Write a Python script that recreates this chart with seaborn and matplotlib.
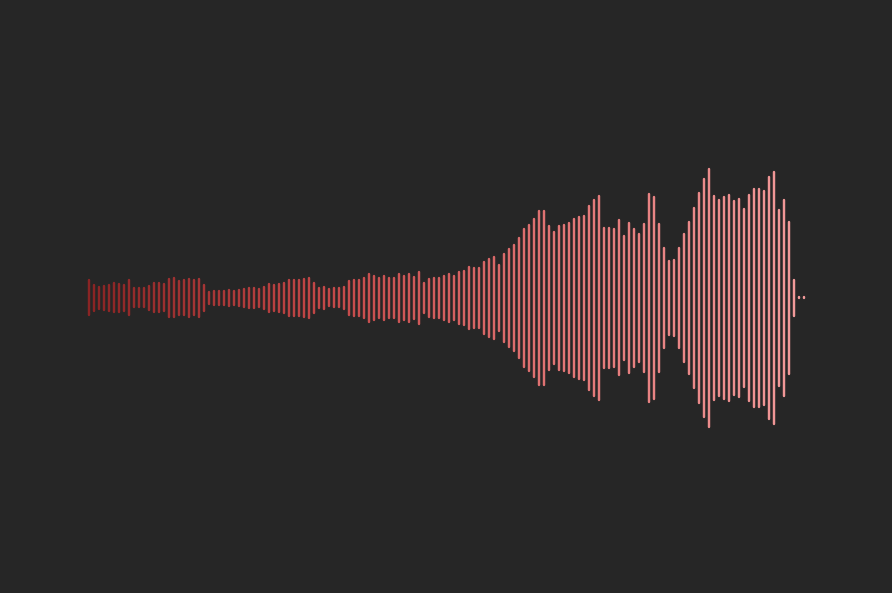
import numpy as np
import pandas as pd
import matplotlib
matplotlib.use("Agg")
import matplotlib.pyplot as plt
import seaborn as sns
from matplotlib.colors import LinearSegmentedColormap

# Half-amplitudes of each bar (pixels-ish units), left to right
amp_1 = [18.5, 13.8, 11.8, 12.8, 13.8, 15.5, 14.8, 13.8, 18.5, 10.5, 10.5, 10.5,
         12.8, 15.5, 15.5, 14.5, 19.8, 20.5, 17.8, 18.5, 19.8, 18.5, 19.8, 13.8]
amp_2 = [6.8, 7.8, 7.8, 7.8, 8.8, 7.8, 8.8, 9.8, 10.8, 10.8, 9.8, 11.8,
         14.8, 13.8, 14.8, 15.8, 18.8, 18.8, 18.8, 19.8, 20.8, 15.8, 10.8, 11.8]
amp_3 = [9.5, 10.5, 10.5, 11.8, 17.8, 18.8, 18.8, 21.1, 24.8, 22.8, 21.1, 22.8,
         21.1, 21.1, 24.8, 22.8, 24.8, 22.1, 26.8, 15.8, 19.8, 21.1, 21.1, 22.8]
amp_4 = [24.8, 22.8, 26.8, 27.8, 31.8, 30.8, 30.8, 37.1, 39.8, 41.8, 34.1, 45.1,
         49.8, 53.8, 60.8, 69.8, 73.8, 79.8, 87.8, 87.8, 72.8, 66.8, 72.8, 73.8]
amp_5 = [75.8, 79.8, 81.8, 82.8, 92.8, 98.8, 102.8, 70.8, 70.8, 69.8, 78.5, 62.8,
         75.8, 69.8, 64.8, 74.8, 104.8, 101.8, 74.8, 50.8, 37.8, 38.8, 50.8, 64.8]
amp_6 = [76.8, 90.8, 105.8, 119.8, 129.8, 102.8, 98.8, 101.8, 103.8, 97.8, 99.8, 89.8,
         103.8, 109.8, 109.8, 107.8, 121.8, 126.8, 88.8, 98.8, 76.8, 18.8, 0.0, 0.0]

amps = amp_1 + amp_2 + amp_3 + amp_4 + amp_5 + amp_6
n = len(amps)

rows = []
for i, a in enumerate(amps):
    h = max(a - 1.0, 0.5)
    rows.append({"x": i, "y": -h, "id": i})
    rows.append({"x": i, "y": h, "id": i})
df = pd.DataFrame(rows)

BG = "#262626"
sns.set_theme(style="dark", rc={"axes.facecolor": BG, "figure.facecolor": BG})

cmap = LinearSegmentedColormap.from_list("wave", ["#8a2424", "#c44848", "#e27676", "#f29a9a"])

fig = plt.figure(figsize=(8.92, 5.93), dpi=100)
ax = fig.add_axes([0, 0, 1, 1])
ax.set_facecolor(BG)

sns.lineplot(data=df, x="x", y="y", units="id", estimator=None, hue="id",
             palette=cmap, hue_norm=(0, n - 1), linewidth=1.75,
             solid_capstyle="round", legend=False, ax=ax, sort=False)

x0 = -89.3 / 5.0
ax.set_xlim(x0, x0 + 892 / 5.0)
ax.set_ylim(-(593 - 297.8), 297.8)
ax.axis("off")

fig.savefig("out.png", dpi=100, facecolor=BG)
